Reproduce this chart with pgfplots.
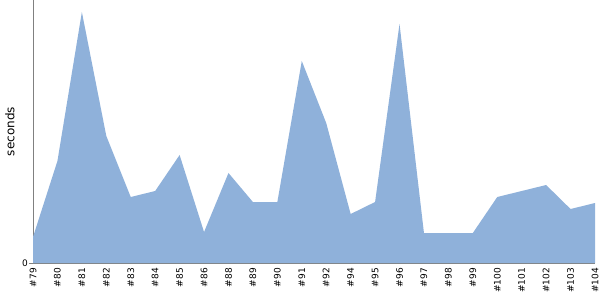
\documentclass[border=0pt]{standalone}
\usepackage{pgfplots}
\pgfplotsset{compat=1.18}
\usetikzlibrary{calc}
\usepackage{fontspec}
\setmainfont{DejaVu Sans}
\definecolor{areablue}{RGB}{143,177,218}
\definecolor{axgray}{RGB}{128,128,128}
\pgfplotstableread{
x h
0 26
1 102
2 251
3 127
4 66
5 72
6 108
7 31
8 90
9 61
10 61
11 202
12 140
13 49
14 61
15 239
16 30
17 30
18 30
19 66
20 72
21 78
22 54
23 60
}\datatable
\begin{document}
\begin{tikzpicture}
\begin{axis}[
  name=ax,
  scale only axis,
  width=562pt, height=263pt,
  xmin=0, xmax=23, ymin=0, ymax=263,
  axis x line*=bottom, axis y line*=left,
  axis line style={axgray, line width=0.8pt, -},
  xtick={0,...,23},
  xticklabels={\#79,\#80,\#81,\#82,\#83,\#84,\#85,\#86,\#88,\#89,\#90,\#91,\#92,\#94,\#95,\#96,\#97,\#98,\#99,\#100,\#101,\#102,\#103,\#104},
  xticklabel style={rotate=90, anchor=east, font=\fontsize{9}{10}\selectfont, inner sep=1pt, xshift=0pt},
  x tick style={draw=none},
  ytick={0},
  yticklabel style={font=\fontsize{9}{10}\selectfont, inner sep=1pt},
  y tick style={axgray, line width=0.8pt},
  tick align=outside,
  major tick length=4pt,
  /pgf/number format/assume math mode=true,
  clip=false,
]
\addplot[draw=none, fill=areablue] table[x=x, y=h] {\datatable} \closedcycle;
\end{axis}
\node[rotate=90, font=\fontsize{12}{14}\selectfont, anchor=center] at ($(ax.south west)+(-23pt,131.5pt)$) {seconds};
\pgfresetboundingbox
\path[use as bounding box] ($(ax.south west)+(-33pt,-37pt)$) rectangle ($(ax.north east)+(5pt,0pt)$);
\end{tikzpicture}
\end{document}
